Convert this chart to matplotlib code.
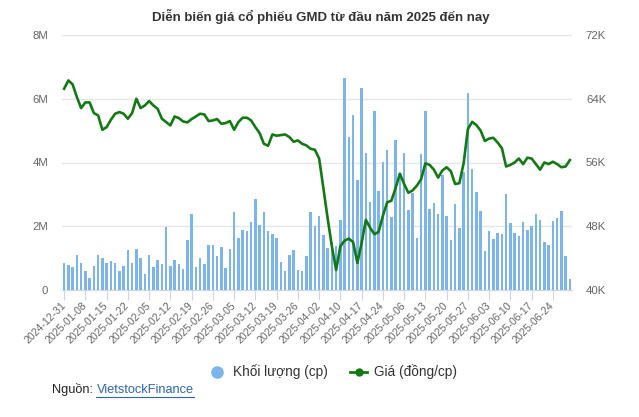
import numpy as np
import pandas as pd
import matplotlib
matplotlib.use("Agg")
import matplotlib.pyplot as plt
from matplotlib.lines import Line2D

plt.rcParams["font.family"] = ["Liberation Sans", "DejaVu Sans"]

# trading sessions (HOSE holidays removed)
holidays = ["2025-01-01", "2025-01-27", "2025-01-28", "2025-01-29", "2025-01-30",
            "2025-01-31", "2025-04-07", "2025-04-30", "2025-05-01", "2025-05-02"]
sessions = pd.bdate_range("2024-12-31", "2025-06-30")
sessions = sessions[~sessions.isin(pd.to_datetime(holidays))]
dates = sessions.strftime("%Y-%m-%d").tolist()

# volume, million shares
volume_m = [0.86, 0.79, 0.72, 1.10, 0.86, 0.61, 0.39, 0.75, 1.10, 1.00,
            0.85, 0.91, 0.86, 0.61, 0.75, 1.27, 0.85, 1.29, 1.00, 0.50,
            1.10, 0.72, 0.94, 0.82, 1.99, 0.75, 0.94, 0.82, 0.66, 1.57,
            2.39, 0.72, 1.00, 0.82, 1.42, 1.42, 1.07, 1.34, 0.69, 1.29,
            2.45, 1.63, 1.88, 1.84, 2.14, 2.85, 2.04, 2.45, 1.85, 1.76,
            1.63, 0.88, 0.60, 1.10, 1.26, 0.63, 0.60, 1.07, 2.45, 2.01,
            2.32, 1.73, 1.32, 1.50, 1.38, 2.20, 6.66, 4.81, 5.50, 3.46,
            6.35, 4.30, 2.76, 5.62, 3.12, 4.02, 4.40, 2.29, 4.71, 3.50,
            4.30, 2.51, 3.05, 1.63, 4.27, 5.62, 2.54, 2.72, 2.40, 3.60,
            2.32, 1.57, 2.70, 1.95, 3.70, 6.19, 3.80, 3.08, 2.48, 1.23,
            1.85, 1.60, 1.79, 1.76, 3.02, 2.10, 1.79, 1.70, 2.14, 1.88,
            2.01, 2.39, 2.20, 1.51, 1.41, 2.17, 2.26, 2.48, 1.07, 0.35]

# closing price, thousand VND
price_k = [65.26, 66.30, 65.80, 64.21, 62.83, 63.54, 63.54, 62.20, 61.91, 60.11,
           60.44, 61.36, 62.12, 62.33, 62.12, 61.49, 62.20, 64.00, 62.83, 63.16,
           63.71, 63.16, 62.74, 61.50, 61.07, 60.65, 61.78, 61.57, 61.15, 61.03,
           61.45, 61.78, 62.12, 62.03, 61.20, 61.28, 61.45, 60.86, 60.95, 61.20,
           60.11, 61.07, 61.62, 61.62, 61.28, 60.44, 59.69, 58.35, 58.10, 59.52,
           59.36, 59.44, 59.52, 59.19, 58.60, 58.77, 58.35, 58.14, 57.72, 57.60,
           56.50, 52.80, 49.00, 45.50, 42.50, 45.50, 46.20, 46.45, 46.00, 43.40,
           45.90, 48.80, 47.80, 47.00, 47.30, 49.30, 51.00, 51.20, 52.80, 54.60,
           53.30, 52.20, 52.50, 53.10, 53.90, 55.90, 55.70, 55.10, 54.10, 55.00,
           55.40, 54.90, 53.30, 53.40, 55.90, 60.20, 61.10, 60.70, 60.00, 58.70,
           59.00, 59.10, 58.50, 57.80, 55.50, 55.70, 56.00, 56.50, 55.80, 56.60,
           56.50, 55.80, 55.10, 56.00, 55.80, 56.10, 55.80, 55.40, 55.50, 56.30]

vol_ticks = [0, 2, 4, 6, 8]
vol_labels = ["0", "2M", "4M", "6M", "8M"]
price_ticks = [40, 48, 56, 64, 72]
price_labels = ["40K", "48K", "56K", "64K", "72K"]

bar_color = "#7cb5ec"
line_color = "#137a13"
label_color = "#666666"

x = np.arange(len(dates))

fig = plt.figure(figsize=(6.39, 4.17), dpi=100)
ax = fig.add_axes([62 / 639, 1 - 290 / 417, 510 / 639, 255 / 417])
ax.bar(x, np.array(volume_m) * 1e6, width=0.62, color=bar_color, zorder=2)
ax.set_xlim(-0.5, len(dates) - 0.5)
ax.set_ylim(0, 8e6)
ax.set_yticks([v * 1e6 for v in vol_ticks])
ax.set_yticklabels(vol_labels)
ax.grid(axis="y", color="#e6e6e6", lw=1)
ax.set_axisbelow(True)
for s in ["top", "left", "right"]:
    ax.spines[s].set_visible(False)
ax.spines["bottom"].set_color("#ccd6eb")
ax.tick_params(axis="y", length=0, pad=10, labelsize=8.2, labelcolor=label_color)
ax.set_xticks(x[::5])
ax.set_xticklabels(dates[::5], rotation=45, ha="right", va="center",
                   rotation_mode="anchor")
ax.tick_params(axis="x", length=7, color="#ccd6eb", labelsize=7.6,
               labelcolor=label_color, pad=3)

ax2 = ax.twinx()
ax2.plot(x, price_k, color=line_color, lw=1.9, solid_joinstyle="round")
ax2.set_ylim(40, 72)
ax2.set_yticks(price_ticks)
ax2.set_yticklabels(price_labels)
for s in ax2.spines.values():
    s.set_visible(False)
ax2.tick_params(axis="y", length=0, pad=10, labelsize=8.2, labelcolor=label_color)

fig.text(0.502, 1 - 17 / 417, "Diễn biến giá cổ phiếu GMD từ đầu năm 2025 đến nay",
         ha="center", va="center", fontsize=9.5, fontweight="bold", color="#333333")

handles = [Line2D([], [], ls="none", marker="o", ms=8, color=bar_color),
           Line2D([], [], color=line_color, lw=2, marker="o", ms=5)]
fig.legend(handles, ["Khối lượng (cp)", "Giá (đồng/cp)"], loc="center",
           bbox_to_anchor=(0.521, 1 - 372 / 417), ncol=2, frameon=False,
           fontsize=9.8, handlelength=1.3, handletextpad=0.5, columnspacing=1.6,
           labelcolor="#333333")

t1 = fig.text(52 / 639, 1 - 390 / 417, "Nguồn: ", ha="left", va="center",
              fontsize=9.2, color="#222222")
r = fig.canvas.get_renderer()
bb1 = t1.get_window_extent(r)
t2 = fig.text(bb1.x1 / fig.bbox.width, 1 - 390 / 417, "VietstockFinance", ha="left",
              va="center", fontsize=9.2, color="#2b64b0")
bb2 = t2.get_window_extent(r)
fig.add_artist(Line2D([bb2.x0 / fig.bbox.width, bb2.x1 / fig.bbox.width],
                      [(bb2.y0 - 1) / fig.bbox.height] * 2, color="#2b64b0", lw=0.8,
                      transform=fig.transFigure))

fig.savefig("out.png", dpi=100)
